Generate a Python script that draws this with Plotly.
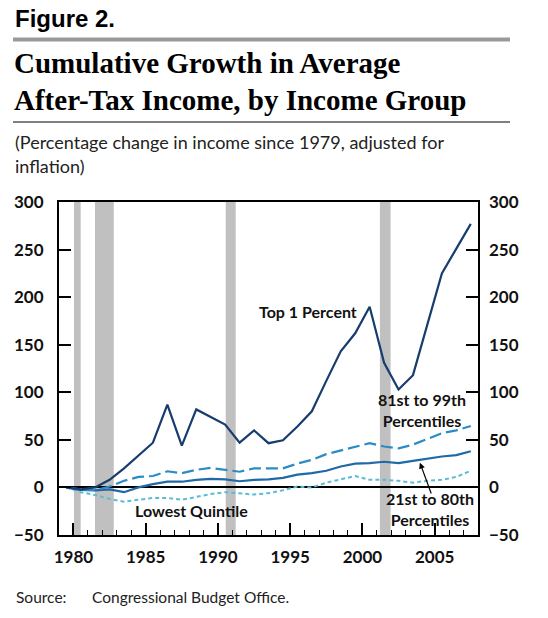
import plotly.graph_objects as go

# anos dos dados (pontos ficam no meio do ano)
anos = list(range(1979, 2008))

# crescimento acumulado (%)
top1 = [0, -2, 0, 8, 20, 34, 47, 87, 44, 82, 74, 66, 47, 60, 46.5, 49.5, 64, 80,
        112, 143, 162, 190, 131, 103, 118, 172, 225, 251, 277]
p81_99 = [0, -2, -3, 1, 7, 11, 12, 17, 15, 18.5, 20.5, 18.5, 16.5, 20, 20, 20, 25, 29,
          35, 39, 42.5, 46.5, 43, 41, 45, 51, 57, 60, 64.5]
p21_80 = [0, -2.5, -3, -2, -5, 0, 3.5, 6, 6, 8, 9, 8.5, 6.5, 8, 8.5, 10, 13.5, 15,
          17.5, 22, 25, 25.5, 27, 25.5, 28, 30.5, 32.5, 34, 38]
lowest = [0, -5, -8, -12, -15, -13, -11, -11, -13, -10, -7, -5, -6, -7.5, -6, -3, 1, 0,
          5, 8.5, 12, 8, 8, 7, 5, 7, 8, 11, 17.5]

# recessoes (inicio e fim, em anos)
rec_inicio = [1980.04, 1981.49, 1990.54, 2001.21]
rec_fim = [1980.5, 1982.79, 1991.23, 2001.95]

x = [a + 0.5 for a in anos]

W, H = 548, 618
L, R, T, B = 59, 478, 202, 535


# converte pixels da pagina para coordenadas "paper"
def px_x(p):
    return (p - L) / (R - L)


def px_y(p):
    return (B - p) / (B - T)


fig = go.Figure()

fig.add_trace(go.Scatter(x=x, y=lowest, mode="lines", name="Lowest Quintile",
                         line=dict(color="#5bbcd6", width=2, dash="4px,3px")))
fig.add_trace(go.Scatter(x=x, y=p21_80, mode="lines", name="21st to 80th Percentiles",
                         line=dict(color="#1f69a6", width=2.2)))
fig.add_trace(go.Scatter(x=x, y=p81_99, mode="lines", name="81st to 99th Percentiles",
                         line=dict(color="#2b8cc4", width=2.2, dash="12px,5px")))
fig.add_trace(go.Scatter(x=x, y=top1, mode="lines", name="Top 1 Percent",
                         line=dict(color="#173d6e", width=2.2)))
# traco invisivel so para mostrar o eixo da direita
fig.add_trace(go.Scatter(x=x, y=top1, mode="lines", yaxis="y2", opacity=0,
                         hoverinfo="skip", showlegend=False))

# barras de recessao
for a, b in zip(rec_inicio, rec_fim):
    fig.add_shape(type="rect", xref="x", yref="paper", x0=a, x1=b, y0=0, y1=1,
                  fillcolor="#c0c0c0", line_width=0, layer="below")

# faixa cinza e linha preta do cabecalho
fig.add_shape(type="rect", xref="paper", yref="paper", x0=px_x(13), x1=px_x(510),
              y0=px_y(41.5), y1=px_y(37.5), fillcolor="#999999", line_width=0)
fig.add_shape(type="line", xref="paper", yref="paper", x0=px_x(13), x1=px_x(510),
              y0=px_y(122), y1=px_y(122), line=dict(color="black", width=1.2))

rotulo = dict(family="Lato", size=16, color="#111111", weight="bold")
tick_font = dict(family="Lato", size=17, color="#111111", weight="bold")

anots = [
    dict(text="Figure 2.", x=px_x(13), y=px_y(18), xanchor="left", yanchor="middle",
         font=dict(family="Liberation Sans", size=24, color="black", weight="bold")),
    dict(text="Cumulative Growth in Average", x=px_x(12), y=px_y(63), xanchor="left",
         yanchor="middle",
         font=dict(family="Liberation Serif", size=29, color="black", weight="bold")),
    dict(text="After-Tax Income, by Income Group", x=px_x(12), y=px_y(100), xanchor="left",
         yanchor="middle",
         font=dict(family="Liberation Serif", size=29, color="black", weight="bold")),
    dict(text="(Percentage change in income since 1979, adjusted for", x=px_x(13),
         y=px_y(142), xanchor="left", yanchor="middle",
         font=dict(family="Lato", size=18, color="#222222")),
    dict(text="inflation)", x=px_x(13), y=px_y(166), xanchor="left", yanchor="middle",
         font=dict(family="Lato", size=18, color="#222222")),
    dict(text="Source:", x=px_x(14), y=px_y(597), xanchor="left", yanchor="middle",
         font=dict(family="Lato", size=15.5, color="#222222")),
    dict(text="Congressional Budget Office.", x=px_x(90), y=px_y(597), xanchor="left",
         yanchor="middle", font=dict(family="Lato", size=15.5, color="#222222")),
]
for a in anots:
    a.update(xref="paper", yref="paper", showarrow=False)
    fig.add_annotation(**a)

fig.add_annotation(text="Top 1 Percent", x=1996.2, y=184.5, showarrow=False, font=rotulo)
fig.add_annotation(text="81st to 99th<br>Percentiles", x=2004.15, y=81, showarrow=False,
                   font=rotulo)
fig.add_annotation(text="21st to 80th<br>Percentiles", x=2004.65, y=-22.5, showarrow=False,
                   font=rotulo)
fig.add_annotation(text="Lowest Quintile", x=1988.15, y=-24.5, showarrow=False, font=rotulo)
# seta para a serie 21-80
fig.add_annotation(text="", x=2003.98, y=26, ax=2004.8, ay=-8, axref="x", ayref="y",
                   showarrow=True, arrowhead=2, arrowsize=1, arrowwidth=1.2,
                   arrowcolor="black", standoff=0)

fig.update_layout(
    width=W, height=H,
    margin=dict(l=L, r=W - R, t=T, b=H - B),
    paper_bgcolor="white", plot_bgcolor="white",
    showlegend=False,
    xaxis=dict(range=[1979, 2008], tick0=1980, dtick=5, ticks="inside", ticklen=12,
               tickwidth=1.5, tickcolor="black", showgrid=False, zeroline=False,
               showline=True, linecolor="black", linewidth=2, mirror=True,
               tickfont=tick_font, ticklabelstandoff=6,
               minor=dict(dtick=1, ticks="inside", ticklen=5, tickwidth=1.2,
                          tickcolor="black", showgrid=False)),
    yaxis=dict(range=[-50, 300], dtick=50, ticks="inside", ticklen=12, tickwidth=1.5,
               tickcolor="black", showgrid=False, zeroline=True, zerolinecolor="black",
               zerolinewidth=1.5, showline=True, linecolor="black", linewidth=2,
               mirror=True, tickfont=tick_font, ticklabelstandoff=10),
    yaxis2=dict(range=[-50, 300], dtick=50, overlaying="y", side="right", ticks="inside",
                ticklen=12, tickwidth=1.5, tickcolor="black", showgrid=False,
                zeroline=False, showline=False, tickfont=tick_font, ticklabelstandoff=10),
)

# tira a margem padrao da pagina para a figura ficar no canto
fig.write_html("out.html", config={"displayModeBar": False},
               post_script="document.body.style.margin='0px';")
